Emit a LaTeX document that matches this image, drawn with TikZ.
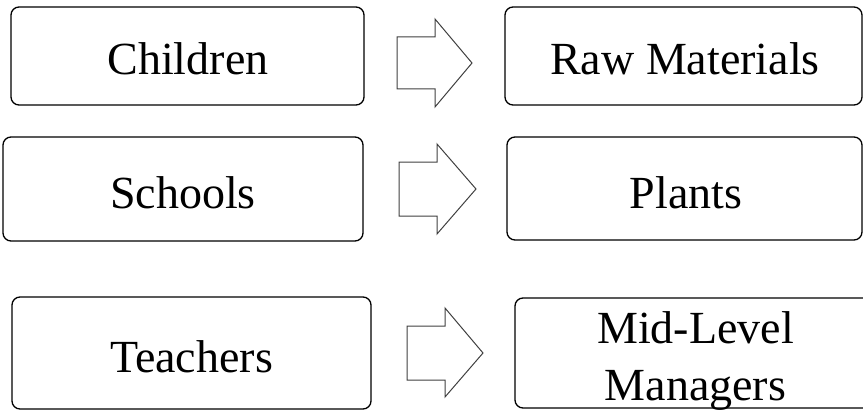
\documentclass[tikz,border=0pt]{standalone}
\usepackage{fontspec}
\setmainfont{Liberation Serif}
\begin{document}
\begin{tikzpicture}[x=1pt,y=-1pt,
  box/.style={draw=black,line width=1.3pt,rounded corners=8pt,fill=white},
  lbl/.style={anchor=base,inner sep=0pt,font=\fontsize{46}{57}\selectfont},
  blockarrow/.style={draw=black!75,line width=1pt,fill=white,line join=miter}]
\useasboundingbox (0,0) rectangle (863,412);
\clip (0,0) rectangle (863,412);

% row 1
\draw[box] (11,7) rectangle (364,105);
\node[lbl] (children) at (188,75) {Children};
\draw[box] (505,7) rectangle (862,105);
\node[lbl] (raw) at (685,75) {Raw Materials};
\draw[blockarrow] (397,37) -- (435,37) -- (435,19) -- (472,63) -- (435,107) -- (435,89) -- (397,89) -- cycle;

% row 2
\draw[box] (3,137) rectangle (363,241);
\node[lbl] (schools) at (183,208) {Schools};
\draw[box] (507,137) rectangle (862,240);
\node[lbl] (plants) at (686,208) {Plants};
\draw[blockarrow] (399,162) -- (437,162) -- (437,144) -- (476,189) -- (437,234) -- (437,216) -- (399,216) -- cycle;

% row 3
\draw[box] (12,297) rectangle (371,409);
\node[lbl] (teachers) at (191.5,372) {Teachers};
\draw[box] (515,298) rectangle (876,408);
\node[lbl] (midlevel) at (695.5,343) {Mid-Level};
\node[lbl] (managers) at (695.5,400) {Managers};
\draw[blockarrow] (407,326) -- (445,326) -- (445,308) -- (483,353) -- (445,397) -- (445,380) -- (407,380) -- cycle;
\end{tikzpicture}
\end{document}
